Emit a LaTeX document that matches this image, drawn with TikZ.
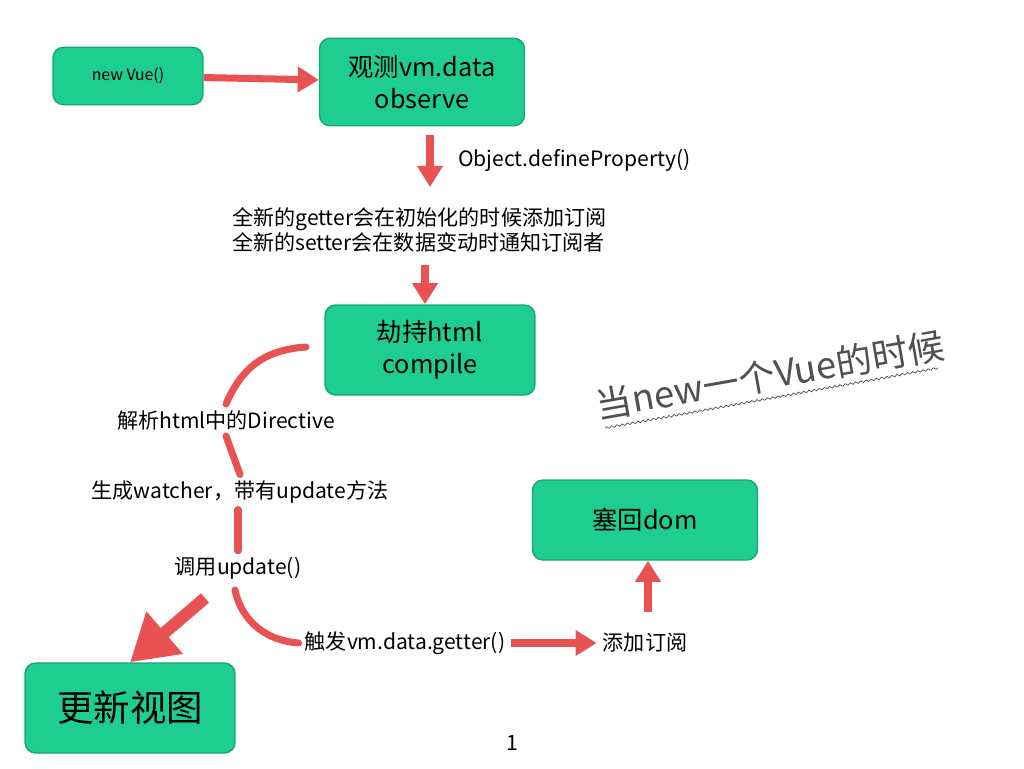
\documentclass[tikz,border=0pt]{standalone}
\usepackage{fontspec}
\setmainfont{Liberation Sans}
\newfontfamily\cjk{Noto Sans CJK SC}
\usetikzlibrary{positioning,arrows.meta,decorations.pathmorphing}
\definecolor{boxgreen}{RGB}{30,206,145}
\definecolor{penred}{RGB}{232,82,82}
\definecolor{inkgray}{RGB}{80,80,80}

\begin{document}
\begin{tikzpicture}[x=0.02cm, y=-0.02cm,
    box/.style={rectangle, rounded corners=6pt, fill=boxgreen, draw=boxgreen!80!black,
                line width=0.8pt, align=center, font=\cjk\Large},
    arrow/.style={-{Triangle[width=14pt,length=12pt]}, line width=4pt, draw=penred, color=penred},
    stroke/.style={line width=4pt, draw=penred, line cap=round},
    txt/.style={font=\cjk\large, align=left}
]
\useasboundingbox (0,0) rectangle (1024,768);

% Boxes
\node[box, font=\cjk\small, minimum width=3cm, minimum height=1.15cm] (newvue) at (128,76) {new Vue()};
\node[box, minimum width=4.1cm, minimum height=1.75cm] (observe) at (422,82) {观测vm.data\\observe};
\node[box, minimum width=4.2cm, minimum height=1.8cm] (compile) at (430,350) {劫持html\\compile};
\node[box, minimum width=4.5cm, minimum height=1.6cm] (dom) at (645,520) {塞回dom};
\node[box, font=\cjk\huge, minimum width=4.2cm, minimum height=1.8cm] (view) at (130,708) {更新视图};

% Texts
\node[txt, anchor=west] (define) at (452,160) {Object.defineProperty()};
\node[txt, anchor=west] (getset) at (226,230) {全新的getter会在初始化的时候添加订阅\\全新的setter会在数据变动时通知订阅者};
\node[txt] (parse) at (226,420) {解析html中的Directive};
\node[txt] (watcher) at (240,492) {生成watcher，带有update方法};
\node[txt] (update) at (238,568) {调用update()};
\node[txt] (trigger) at (405,643) {触发vm.data.getter()};
\node[txt] (subscribe) at (645,643) {添加订阅};
\node[txt] (page) at (512,743) {1};
\node[font=\cjk\huge, text=inkgray, rotate=10, inner sep=0pt] (when) at (770,375) {当new一个Vue的时候};
\coordinate (waveA) at (605,428);
\coordinate (waveB) at (938,368);
\draw[inkgray, decorate, decoration={snake, amplitude=0.6pt, segment length=3pt}] (waveA) -- (waveB);

% Arrows
\draw[arrow] (newvue) -- (observe);
\coordinate (d1) at (430,135);
\coordinate (d2) at (430,187);
\draw[arrow] (d1) -- (d2);
\coordinate (g1) at (425,265);
\draw[arrow] (g1) -- (compile.north -| g1);
\coordinate (u1) at (648,612);
\draw[arrow] (u1) -- (dom.south -| u1);
\draw[arrow] (trigger.east) -- (subscribe.west);
\coordinate (v1) at (205,598);
\draw[-{Triangle[width=30pt,length=26pt]}, line width=7pt, penred] (v1) -- (view.north);

% Flow strokes
\coordinate (c1) at (306,347);
\draw[stroke] (c1) .. controls (260,350) and (240,372) .. (parse.north);
\draw[stroke] (parse.south) -- (watcher.north);
\draw[stroke] (watcher.south -| update) -- (update.north);
\coordinate (c2) at (235,590);
\draw[stroke] (c2) .. controls (240,615) and (260,640) .. (trigger.west);
\end{tikzpicture}
\end{document}
